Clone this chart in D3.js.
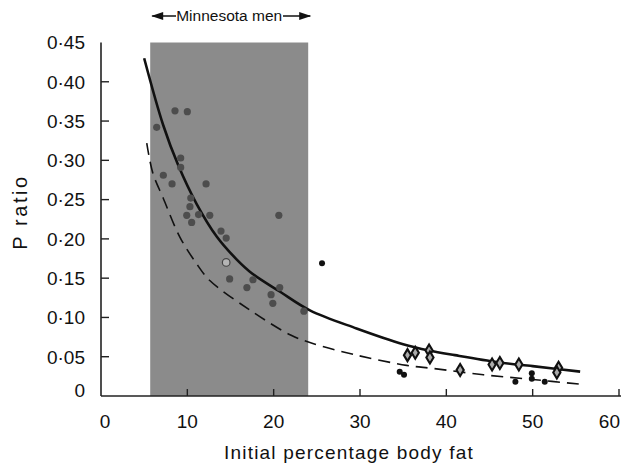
<!DOCTYPE html>
<html>
<head>
<meta charset="utf-8">
<script src="https://cdn.jsdelivr.net/npm/d3@7"></script>
<style>
  body { margin: 0; background: #fff; }
  text { font-family: "Liberation Sans", Arial, sans-serif; fill: #111; }
</style>
</head>
<body>
<div id="chart"></div>
<script>
// values
const xTicks = [0, 10, 20, 30, 40, 50, 60];
const yTicks = [0, 0.05, 0.10, 0.15, 0.20, 0.25, 0.30, 0.35, 0.40, 0.45];
const minnesotaRange = [5.7, 24.0];

// Minnesota men (grey dots inside the band)
const minnesotaPts = [
    [6.45, 0.342], [8.57, 0.363], [10.0, 0.362], [9.23, 0.303], [9.23, 0.291],
    [7.22, 0.281], [8.23, 0.270], [12.17, 0.270], [10.4, 0.252], [10.3, 0.241],
    [9.93, 0.230], [11.3, 0.231], [12.6, 0.230], [10.5, 0.221], [13.9, 0.210],
    [14.5, 0.201], [20.6, 0.230], [14.9, 0.149], [17.6, 0.148], [16.9, 0.138],
    [20.7, 0.138], [19.7, 0.129], [19.9, 0.118], [23.5, 0.108]
];
const openPts = [[14.5, 0.170]];
const blackPts = [
    [25.6, 0.169], [34.6, 0.031], [35.1, 0.027], [48.0, 0.018],
    [49.9, 0.029], [49.9, 0.022], [51.4, 0.018]
];
const diamondPts = [
    [35.5, 0.052], [36.4, 0.055], [38.0, 0.058], [38.1, 0.049], [41.6, 0.033],
    [45.3, 0.040], [46.2, 0.042], [48.4, 0.040], [53.0, 0.036], [52.8, 0.030]
];

// fitted curves
const solidCurve = [
    [5.0, 0.430], [7.2, 0.345], [8.9, 0.295], [11.1, 0.244], [13.4, 0.203],
    [15.7, 0.174], [17.5, 0.156], [20.7, 0.133], [24.2, 0.109], [29.6, 0.086],
    [35.0, 0.066], [38.0, 0.058], [41.0, 0.052], [46.0, 0.043], [50.0, 0.038],
    [55.5, 0.031]
];
const dashedCurve = [
    [5.3, 0.322], [6.0, 0.284], [7.2, 0.252], [9.15, 0.202], [11.1, 0.168],
    [12.6, 0.147], [17.3, 0.109], [21.9, 0.078], [24.2, 0.068], [29.6, 0.052],
    [35.4, 0.039], [38.5, 0.035], [44.3, 0.027], [50.0, 0.021], [55.5, 0.015]
];

const width = 621, height = 468;

let svg = d3.select("#chart").append("svg")
    .attr("width", width)
    .attr("height", height);

let x = d3.scaleLinear().domain([0, 60]).range([101, 619]);
let y = d3.scaleLinear().domain([0, 0.45]).range([396, 42.5]);

// shaded band
svg.append("rect")
    .attr("x", x(minnesotaRange[0]))
    .attr("y", y(0.45))
    .attr("width", x(minnesotaRange[1]) - x(minnesotaRange[0]))
    .attr("height", y(0) - y(0.45))
    .attr("fill", "#8b8b8b");

// axes
svg.append("line")
    .attr("x1", x(0)).attr("x2", width)
    .attr("y1", y(0)).attr("y2", y(0))
    .attr("stroke", "#222").attr("stroke-width", 1.6);
svg.append("line")
    .attr("x1", x(0)).attr("x2", x(0))
    .attr("y1", y(0)).attr("y2", y(0.45))
    .attr("stroke", "#222").attr("stroke-width", 1.6);

svg.append("g").selectAll("line")
    .data(xTicks.filter(d => d > 0))
    .enter().append("line")
    .attr("x1", d => x(d)).attr("x2", d => x(d))
    .attr("y1", y(0)).attr("y2", y(0) - 7)
    .attr("stroke", "#222").attr("stroke-width", 1.4);

svg.append("g").selectAll("line")
    .data(yTicks.filter(d => d > 0 && d < 0.45))
    .enter().append("line")
    .attr("x1", x(0)).attr("x2", x(0) + 8)
    .attr("y1", d => y(d)).attr("y2", d => y(d))
    .attr("stroke", "#222").attr("stroke-width", 1.4);

// last label sits against the right edge
svg.append("g").selectAll("text")
    .data(xTicks)
    .enter().append("text")
    .attr("x", d => d === 60 ? width - 1 : x(d) + (d === 0 ? 4 : 0))
    .attr("y", 428)
    .attr("text-anchor", d => d === 60 ? "end" : "middle")
    .attr("font-size", 19)
    .text(d => d);

svg.append("g").selectAll("text")
    .data(yTicks)
    .enter().append("text")
    .attr("x", 85)
    .attr("y", d => y(d) + (d === 0 ? -6 : 0))
    .attr("dy", "0.36em")
    .attr("text-anchor", "end")
    .attr("font-size", 19)
    .text(d => d === 0 ? "0" : d3.format(".2f")(d).replace(".", "\u00b7"));

// axis titles
svg.append("text")
    .attr("x", 349).attr("y", 459)
    .attr("text-anchor", "middle")
    .attr("font-size", 19)
    .attr("letter-spacing", 1.2)
    .text("Initial percentage body fat");

svg.append("text")
    .attr("transform", "translate(27,212) rotate(-90)")
    .attr("text-anchor", "middle")
    .attr("font-size", 20)
    .attr("letter-spacing", 2.6)
    .text("P ratio");

// "Minnesota men" label with arrows
let label = svg.append("g");
label.append("text")
    .attr("x", (x(minnesotaRange[0]) + x(minnesotaRange[1])) / 2)
    .attr("y", 21)
    .attr("text-anchor", "middle")
    .attr("font-size", 15.5)
    .text("Minnesota men");
label.append("line")
    .attr("x1", x(minnesotaRange[0]) + 2).attr("x2", 176)
    .attr("y1", 16).attr("y2", 16)
    .attr("stroke", "#111").attr("stroke-width", 1.5);
label.append("line")
    .attr("x1", 283).attr("x2", x(minnesotaRange[1]) + 2)
    .attr("y1", 16).attr("y2", 16)
    .attr("stroke", "#111").attr("stroke-width", 1.5);
label.append("path")
    .attr("d", `M${x(minnesotaRange[0]) + 1},16 l12,-4 l0,8 Z`)
    .attr("fill", "#111");
label.append("path")
    .attr("d", `M${x(minnesotaRange[1]) + 3},16 l-12,-4 l0,8 Z`)
    .attr("fill", "#111");

// curves
let line = d3.line()
    .x(d => x(d[0]))
    .y(d => y(d[1]))
    .curve(d3.curveCatmullRom);

svg.append("path")
    .attr("d", line(solidCurve))
    .attr("fill", "none")
    .attr("stroke", "#111")
    .attr("stroke-width", 2.6);

svg.append("path")
    .attr("d", line(dashedCurve))
    .attr("fill", "none")
    .attr("stroke", "#111")
    .attr("stroke-width", 1.6)
    .attr("stroke-dasharray", "12,7");

// points
svg.append("g").selectAll("circle")
    .data(minnesotaPts)
    .enter().append("circle")
    .attr("cx", d => x(d[0]))
    .attr("cy", d => y(d[1]))
    .attr("r", 3.6)
    .attr("fill", "#4d4d4d");

svg.append("g").selectAll("circle")
    .data(openPts)
    .enter().append("circle")
    .attr("cx", d => x(d[0]))
    .attr("cy", d => y(d[1]))
    .attr("r", 3.8)
    .attr("fill", "#b5b5b5")
    .attr("stroke", "#444")
    .attr("stroke-width", 1.2);

svg.append("g").selectAll("circle")
    .data(blackPts)
    .enter().append("circle")
    .attr("cx", d => x(d[0]))
    .attr("cy", d => y(d[1]))
    .attr("r", 3)
    .attr("fill", "#111");

svg.append("g").selectAll("path")
    .data(diamondPts)
    .enter().append("path")
    .attr("transform", d => `translate(${x(d[0])},${y(d[1])})`)
    .attr("d", "M0,-6L3.6,0L0,6L-3.6,0Z")
    .attr("fill", "#aaa")
    .attr("stroke", "#111")
    .attr("stroke-width", 2.1);
</script>
</body>
</html>
